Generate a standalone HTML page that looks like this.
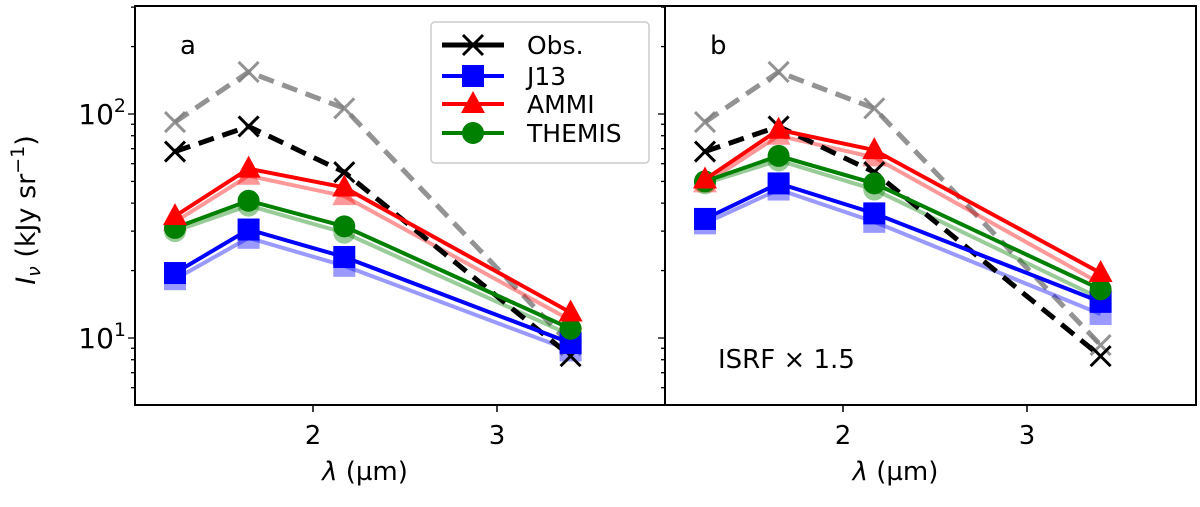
<!DOCTYPE html>
<html><head><meta charset="utf-8"><style>
body{margin:0;background:#fff;}
svg text{font-family:"DejaVu Sans","Liberation Sans",sans-serif;}
</style></head><body>
<svg id="chart" width="1200" height="502" xmlns="http://www.w3.org/2000/svg"></svg>
<script>
const wavelengths=[1.25,1.65,2.17,3.4];
const obs=[68,88,55,8.3];
const obsScaled=[92,154,106,9.3];
const panelAJ13=[19.5,30.5,23,9.5];
const panelAJ13f=[18.3,28,21,8.8];
const panelAAMMI=[35,57,47,13];
const panelAAMMIf=[33,53,43,12];
const panelATHEMIS=[31,41,31.5,11];
const panelATHEMISf=[30,39,29.5,10.3];
const panelBJ13=[34,49,36,14.5];
const panelBJ13f=[32.5,46,33,12.8];
const panelBAMMI=[51,85,69,19.5];
const panelBAMMIf=[49,80,64,17.5];
const panelBTHEMIS=[50,65,49,16.5];
const panelBTHEMISf=[49,62,46,15];
const xTicks=[2,3];
const yTicks=[1,2];

const svg=document.getElementById('chart');
const NS='http://www.w3.org/2000/svg';
function mk(tag,attrs,parent){const e=document.createElementNS(NS,tag);for(const k in attrs)e.setAttribute(k,attrs[k]);(parent||svg).appendChild(e);return e;}
const yTop=6,yBottom=405;
function yS(v){return 114-(Math.log10(v)-2)*224;}
const panels=[{x0:135,x1:665,name:'a'},{x0:665,x1:1196,name:'b'}];
function xS(p,l){return p.x0+178+(l-2)*184;}

function marker(g,type,x,y,color,op){
  let e;
  if(type==='x'){e=mk('path',{d:`M${x-10},${y-10}L${x+10},${y+10}M${x-10},${y+10}L${x+10},${y-10}`,stroke:color,'stroke-width':3,'stroke-opacity':op,fill:'none'},g);}
  else if(type==='s'){e=mk('rect',{x:x-11,y:y-11,width:22,height:22,fill:color,'fill-opacity':op},g);}
  else if(type==='t'){e=mk('path',{d:`M${x},${y-13}L${x+12},${y+9}L${x-12},${y+9}Z`,fill:color,'fill-opacity':op},g);}
  else {e=mk('circle',{cx:x,cy:y,r:11,fill:color,'fill-opacity':op},g);}
  
  
}
function series(p,vals,color,type,op,dash,name){
  const g=mk('g',{});
  
  
  const pts=vals.map((v,i)=>xS(p,wavelengths[i])+','+yS(v)).join(' ');
  mk('polyline',{points:pts,fill:'none',stroke:color,'stroke-opacity':op,'stroke-width':dash?5:4,'stroke-dasharray':dash?'16,9':'none'},g);
  vals.forEach((v,i)=>marker(g,type,xS(p,wavelengths[i]),yS(v),color,op));
}
panels.forEach((p,pi)=>{
  const data=pi===0?[panelAJ13,panelAJ13f,panelAAMMI,panelAAMMIf,panelATHEMIS,panelATHEMISf]:[panelBJ13,panelBJ13f,panelBAMMI,panelBAMMIf,panelBTHEMIS,panelBTHEMISf];
  series(p,obsScaled,'#808080','x',0.85,true,'obs-scaled-'+p.name);
  series(p,data[1],'#0000ff',"s",0.4,false,'j13-faded-'+p.name);
  series(p,data[5],'#008000',"c",0.4,false,'themis-faded-'+p.name);
  series(p,data[3],'#ff0000',"t",0.4,false,'ammi-faded-'+p.name);
  series(p,obs,'#000000','x',1,true,'obs-'+p.name);
  series(p,data[0],'#0000ff',"s",1,false,'j13-'+p.name);
  series(p,data[4],'#008000',"c",1,false,'themis-'+p.name);
  series(p,data[2],'#ff0000',"t",1,false,'ammi-'+p.name);
  const fr=mk('rect',{x:p.x0,y:yTop,width:p.x1-p.x0,height:yBottom-yTop,fill:'none',stroke:'#000','stroke-width':2});
  
  
  xTicks.forEach(t=>{const x=xS(p,t);mk('line',{x1:x,y1:yBottom,x2:x,y2:yBottom+7,stroke:'#000','stroke-width':1.5});
    const tx=mk('text',{x:x,y:yBottom+39,'font-size':26,'text-anchor':'middle'});tx.textContent=t;
    
    });
  for(let d=0;d<3;d++)for(let m=1;m<10;m++){const v=m*Math.pow(10,d);const y=yS(v);if(y<yTop||y>yBottom)continue;
    const len=m===1?7:4;
    mk('line',{x1:p.x0,y1:y,x2:p.x0-len,y2:y,stroke:'#000','stroke-width':1.3});}
  const xl=mk('text',{x:(p.x0+p.x1)/2-35,y:480,'font-size':26,'text-anchor':'middle'});
  xl.innerHTML='<tspan font-style="italic">λ</tspan> (µm)';
  
  
  const lab=mk('text',{x:p.x0+45,y:54,'font-size':26});lab.textContent=p.name;
  
  
});
yTicks.forEach(e=>{const t=mk('text',{x:126,y:yS(Math.pow(10,e))+10,'font-size':28,'text-anchor':'end'});
  t.innerHTML='10<tspan dy="-12" font-size="19">'+e+'</tspan>';
  
  });
const yl=mk('text',{transform:'translate(35,210) rotate(-90)','font-size':27,'text-anchor':'middle'});
yl.innerHTML='<tspan font-style="italic">I</tspan><tspan font-style="italic" font-size="19" dy="5">ν</tspan><tspan dy="-5"> (kJy sr</tspan><tspan dy="-11" font-size="19">−1</tspan><tspan dy="11">)</tspan>';


const isrf=mk('text',{x:718,y:368,'font-size':26});isrf.textContent='ISRF × 1.5';


const lg=mk('g',{});


mk('rect',{x:431,y:22,width:218,height:141,rx:4,fill:'#fff','fill-opacity':0.85,stroke:'#ccc','stroke-width':1.5},lg);
const legNames=['Obs.','J13','AMMI','THEMIS'],legCol=['#000','#0000ff','#ff0000','#008000'],legM=['x','s','t','c'],legY=[45,76,104,133];
legNames.forEach((n,i)=>{const eg=mk('g',{},lg);
  
  
  mk('line',{x1:442,y1:legY[i],x2:504,y2:legY[i],stroke:legCol[i],'stroke-width':i===0?5:4},eg);
  marker(eg,legM[i],473,legY[i],legCol[i],1);
  const t=mk('text',{x:527,y:legY[i]+9,'font-size':25},eg);t.textContent=n;});
</script>
</body></html>
